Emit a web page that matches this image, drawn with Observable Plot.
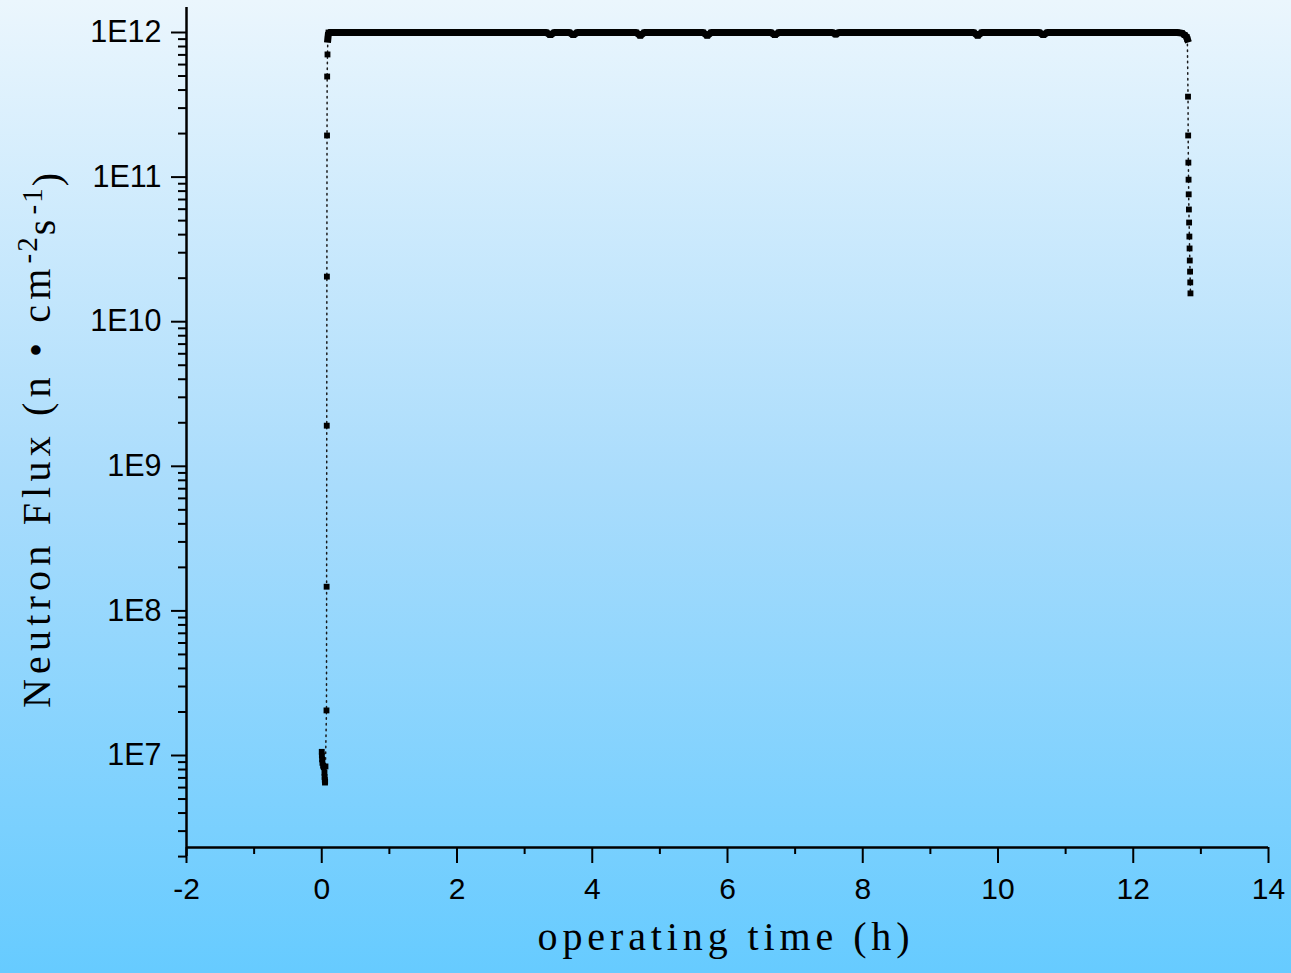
<!DOCTYPE html>
<html>
<head>
<meta charset="utf-8">
<script src="https://cdn.jsdelivr.net/npm/d3@7"></script>
<script src="https://cdn.jsdelivr.net/npm/@observablehq/plot@0.6"></script>
<style>
  html, body { margin: 0; padding: 0; }
  body {
    width: 1291px; height: 973px; overflow: hidden;
    background: linear-gradient(to bottom, #ebf6fd 0%, #a9dcfc 50%, #66cbff 100%);
  }
  #chart svg { display: block; }
</style>
</head>
<body>
<div id="chart"></div>
<script>
// ---- Data ----
const timeH = [
  0.000, 0.002, 0.005, 0.010, 0.020, 0.030, 0.055, 0.040, 0.042, 0.045, 0.048, 0.050,
  0.070, 0.072, 0.074, 0.076, 0.078, 0.080, 0.085, 0.090,
  0.10, 0.3, 0.6, 1.0, 1.5, 2.0, 2.5, 3.0, 3.32, 3.38, 3.44, 3.66, 3.72, 3.78, 4.2,
  4.65, 4.71, 4.77, 5.2, 5.64, 5.70, 5.76, 6.2, 6.64, 6.70, 6.76, 7.2, 7.55, 7.60, 7.65,
  8.0, 8.5, 9.0, 9.64, 9.70, 9.76, 10.2, 10.61, 10.67, 10.73, 11.2, 11.6, 12.0, 12.4,
  12.65, 12.72, 12.76, 12.79, 12.80,
  12.810, 12.812, 12.815, 12.818, 12.820, 12.823, 12.826, 12.830, 12.833, 12.836, 12.840, 12.843, 12.846
];
const flux = [
  1.06e7, 1.0e7, 9.4e6, 8.9e6, 8.5e6, 8.3e6, 8.4e6, 7.6e6, 7.1e6, 6.8e6, 6.5e6, 6.6e6,
  2.05e7, 1.47e8, 1.91e9, 2.05e10, 1.94e11, 4.96e11, 7.05e11, 9.0e11,
  1e12, 1e12, 1e12, 1e12, 1e12, 1e12, 1e12, 1e12, 1e12, 0.96e12, 1e12, 1e12, 0.96e12, 1e12, 1e12,
  1e12, 0.95e12, 1e12, 1e12, 1e12, 0.95e12, 1e12, 1e12, 1e12, 0.96e12, 1e12, 1e12, 1e12, 0.97e12, 1e12,
  1e12, 1e12, 1e12, 1e12, 0.95e12, 1e12, 1e12, 1e12, 0.96e12, 1e12, 1e12, 1e12, 1e12, 1e12,
  1e12, 9.9e11, 9.6e11, 9.3e11, 9.0e11,
  3.6e11, 1.94e11, 1.26e11, 9.6e10, 7.6e10, 5.97e10, 4.85e10, 3.88e10, 3.21e10, 2.65e10, 2.22e10, 1.87e10, 1.57e10
];

const xMajorTicks = [-2, 0, 2, 4, 6, 8, 10, 12, 14];
const xMajorLabels = ["-2", "0", "2", "4", "6", "8", "10", "12", "14"];
const xMinorTicks = [-1, 1, 3, 5, 7, 9, 11, 13];
const yMajorTicks = [1e7, 1e8, 1e9, 1e10, 1e11, 1e12];
const yMajorLabels = ["1E7", "1E8", "1E9", "1E10", "1E11", "1E12"];
const yMinorMantissas = [2, 3, 4, 5, 6, 7, 8, 9];
const yMinorDecades = [1e6, 1e7, 1e8, 1e9, 1e10, 1e11];

const xLabel = "operating time (h)";
const yLabelParts = [
  {text: "Neutron Flux (n • cm", sup: false},
  {text: "-2", sup: true},
  {text: "s", sup: false},
  {text: "-1", sup: true},
  {text: ")", sup: false}
];

// ---- Build tables ----
const data = timeH.map((t, i) => ({t, f: flux[i]}));
const plateau = data.filter(d => d.t >= 0.09 && d.t <= 12.80 && d.f >= 9e11);
const yMinorTicks = [];
for (const dec of yMinorDecades) for (const m of yMinorMantissas) yMinorTicks.push(m * dec);

const yBottom = Math.pow(10, 6.3638);
const yTop = Math.pow(10, 12.1729);

const chart = Plot.plot({
  width: 1291,
  height: 973,
  marginLeft: 186,
  marginRight: 23,
  marginTop: 7,
  marginBottom: 126,
  style: {background: "transparent", overflow: "visible", fontFamily: "'Liberation Sans', Arial, sans-serif", color: "black"},
  x: {domain: [-2, 14], label: null},
  y: {type: "log", domain: [yBottom, yTop], label: null},
  marks: [
    // axis lines
    Plot.ruleX([-2], {y1: 2e6, y2: yTop, stroke: "black", strokeWidth: 2.5}),
    Plot.ruleY([yBottom], {x1: -2, x2: 14, stroke: "black", strokeWidth: 2.5}),
    // y axis ticks
    Plot.axisY(yMajorTicks, {anchor: "left", tickSize: 15, tickPadding: 10, strokeWidth: 2, stroke: "black",
      fontSize: 30.5, fill: "black", label: null,
      tickFormat: d => yMajorLabels[yMajorTicks.indexOf(d)]}),
    Plot.axisY(yMinorTicks, {anchor: "left", tickSize: 8, strokeWidth: 2, stroke: "black", label: null,
      tickFormat: () => ""}),
    // x axis ticks
    Plot.axisX(xMajorTicks, {anchor: "bottom", tickSize: 16, tickPadding: 14, strokeWidth: 2, stroke: "black",
      fontSize: 30, fill: "black", label: null,
      tickFormat: d => xMajorLabels[xMajorTicks.indexOf(d)]}),
    Plot.axisX(xMinorTicks, {anchor: "bottom", tickSize: 7, strokeWidth: 2, stroke: "black", label: null,
      tickFormat: () => ""}),
    // connecting dotted line
    Plot.line(data, {x: "t", y: "f", stroke: "#1a1a1a", strokeWidth: 1.5, strokeDasharray: "1.5 4.2"}),
    // dense plateau of overlapping markers
    Plot.line(plateau, {x: "t", y: "f", stroke: "black", strokeWidth: 7, strokeLinecap: "square", strokeLinejoin: "miter"}),
    // markers
    Plot.dot(data, {x: "t", y: "f", symbol: "square", r: 3.3, fill: "black", stroke: "none"})
  ]
});

document.getElementById("chart").appendChild(chart);

const svg = d3.select(chart);
const labelFont = "'Liberation Serif', 'DejaVu Serif', serif";
// y axis label
const yl = svg.append("text")
  .attr("transform", "translate(50,708) rotate(-90)")
  .attr("font-family", labelFont)
  .attr("font-size", 40)
  .attr("letter-spacing", "5.2px")
  .attr("fill", "black")
  .attr("text-anchor", "start");
let prevSup = false;
for (const p of yLabelParts) {
  const ts = yl.append("tspan").text(p.text);
  if (p.sup && !prevSup) ts.attr("dy", "-0.45em").attr("font-size", 29).attr("letter-spacing", "2px");
  else if (!p.sup && prevSup) ts.attr("dy", "0.45em");
  if (p.sup && prevSup) ts.attr("font-size", 29).attr("letter-spacing", "2px");
  prevSup = p.sup;
}
// x axis label
svg.append("text")
  .attr("x", 726)
  .attr("y", 950)
  .attr("font-family", labelFont)
  .attr("font-size", 40)
  .attr("letter-spacing", "4.9px")
  .attr("fill", "black")
  .attr("text-anchor", "middle")
  .text(xLabel);
</script>
</body>
</html>
